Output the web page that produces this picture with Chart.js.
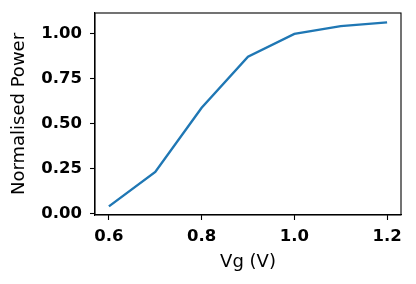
<!DOCTYPE html>
<html><head><meta charset="utf-8">
<script src="https://cdn.jsdelivr.net/npm/chart.js@4/dist/chart.umd.min.js"></script>
<style>html,body{margin:0;padding:0;background:#fff}#wrap{width:416px;height:284px}</style>
</head><body><div id="wrap"><canvas id="c" width="416" height="284"></canvas></div>
<script>
const vg = [0.6, 0.7, 0.8, 0.9, 1.0, 1.1, 1.2];
const power = [0.042, 0.233, 0.59, 0.873, 1.0, 1.043, 1.064];
const xTicks = [0.6, 0.8, 1.0, 1.2];
const yTicks = [0.0, 0.25, 0.5, 0.75, 1.0];

const frame = {
  id: 'frame',
  afterDraw(chart) {
    const {ctx, chartArea: a} = chart;
    ctx.save();
    ctx.strokeStyle = '#000';
    ctx.lineWidth = 1.1;
    ctx.strokeRect(a.left, a.top, a.right - a.left, a.bottom - a.top);
    ctx.restore();
  }
};

new Chart(document.getElementById('c'), {
  type: 'line',
  data: {
    datasets: [{
      data: vg.map((x, i) => ({x: x, y: power[i]})),
      borderColor: '#1f77b4',
      borderWidth: 2.4,
      pointRadius: 0,
      fill: false,
      tension: 0
    }]
  },
  options: {
    responsive: false,
    animation: false,
    devicePixelRatio: 1,
    layout: {padding: {top: 13, right: 15, left: 9, bottom: 11}},
    plugins: {legend: {display: false}, tooltip: {enabled: false}},
    scales: {
      x: {
        type: 'linear',
        min: 0.57, max: 1.23,
        afterBuildTicks(s) { s.ticks = xTicks.map(v => ({value: v})); },
        afterFit(s) { s.height = 284 - 11 - 215; s.paddingLeft = 0; s.paddingRight = 0; },
        grid: {drawOnChartArea: false, tickLength: 5, tickWidth: 1.1, tickColor: '#000'},
        border: {display: true, color: '#000', width: 1.1},
        ticks: {
          color: '#000', padding: 7, maxRotation: 0,
          font: {family: 'DejaVu Sans', size: 16.5, weight: 'bold'},
          callback: v => v.toFixed(1)
        },
        title: {display: true, text: 'Vg (V)', color: '#000', padding: {top: 0, bottom: 0},
          font: {family: 'DejaVu Sans', size: 18}}
      },
      y: {
        type: 'linear',
        min: -0.006, max: 1.116,
        afterBuildTicks(s) { s.ticks = yTicks.map(v => ({value: v})); },
        afterFit(s) { s.width = 95 - 9; s.paddingTop = 0; s.paddingBottom = 0; },
        grid: {drawOnChartArea: false, tickLength: 5, tickWidth: 1.1, tickColor: '#000'},
        border: {display: true, color: '#000', width: 1.1},
        ticks: {
          color: '#000', padding: 8,
          font: {family: 'DejaVu Sans', size: 16.5, weight: 'bold'},
          callback: v => v.toFixed(2)
        },
        title: {display: true, text: 'Normalised Power', color: '#000', padding: {top: 0, bottom: 0},
          font: {family: 'DejaVu Sans', size: 18}}
      }
    }
  },
  plugins: [frame]
});
</script></body></html>
